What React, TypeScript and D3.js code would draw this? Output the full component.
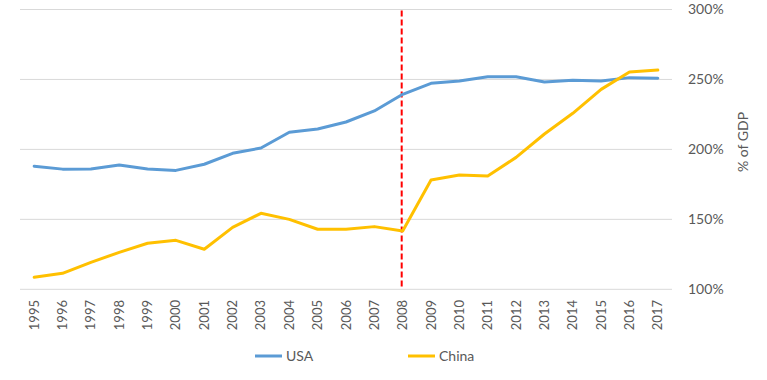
import React from "react";
import * as d3 from "d3";

const years = ["1995","1996","1997","1998","1999","2000","2001","2002","2003","2004","2005","2006","2007","2008","2009","2010","2011","2012","2013","2014","2015","2016","2017"];
const usa = [188, 185.9, 186, 188.8, 186, 185, 189.4, 197.2, 201, 212.3, 214.6, 219.6, 227.5, 239.4, 247.2, 248.9, 252, 252, 248.2, 249.4, 248.9, 251.3, 250.8];
const china = [108.6, 111.4, 119.3, 126.4, 132.9, 135, 128.6, 144.3, 154.3, 150, 142.9, 142.9, 144.8, 141.7, 178.1, 181.7, 181, 194.3, 211, 225.8, 242.9, 255.3, 256.7];
const yTicks = [100, 150, 200, 250, 300];
const markerYear = "2008";

const W = 767, H = 380;
const FONT = "Lato, 'Open Sans', sans-serif";

export default function App() {
  const x = d3.scaleBand<string>().domain(years).range([20, 672]);
  const y = d3.scaleLinear().domain([100, 300]).range([289.3, 9.5]);
  const cx = (yr: string) => (x(yr) as number) + x.bandwidth() / 2;
  const line = d3.line<number>().x((_, i) => cx(years[i])).y(d => y(d));
  const series = [
    { name: "USA", values: usa, color: "#5B9BD5", lx: 255 },
    { name: "China", values: china, color: "#FFC000", lx: 408 },
  ];
  return (
    <svg width={W} height={H} style={{ position: "absolute", left: 0, top: 0 }}>
      <rect width={W} height={H} fill="#fff" />
      {yTicks.map(t => (
        <g key={t}>
          <line x1={20} x2={672} y1={y(t)} y2={y(t)} stroke="#d9d9d9" strokeWidth={1} />
          <text x={688} y={y(t)} dy="0.35em" fontSize={14} fontFamily={FONT} fill="#595959">{t}%</text>
        </g>
      ))}
      <line x1={cx(markerYear) - 1} x2={cx(markerYear) - 1} y1={y(300) + 1} y2={y(100)} stroke="#FF0000" strokeWidth={2} strokeDasharray="6,3" />
      {series.map(s => (
        <path key={s.name} d={line(s.values) || ""} fill="none" stroke={s.color} strokeWidth={3} strokeLinejoin="round" strokeLinecap="round" />
      ))}
      {years.map(yr => (
        <text key={yr} transform={`translate(${cx(yr) + 4.5},300) rotate(-90)`} textAnchor="end" fontSize={13} fontFamily={FONT} fill="#595959">{yr}</text>
      ))}
      <text transform={`translate(748,142) rotate(-90)`} textAnchor="middle" fontSize={14} fontFamily={FONT} fill="#595959">% of GDP</text>
      {series.map(s => (
        <g key={s.name + "-leg"}>
          <line x1={s.lx} x2={s.lx + 27} y1={356} y2={356} stroke={s.color} strokeWidth={3} />
          <text x={s.lx + 31} y={356} dy="0.35em" fontSize={14} fontFamily={FONT} fill="#595959">{s.name}</text>
        </g>
      ))}
    </svg>
  );
}
